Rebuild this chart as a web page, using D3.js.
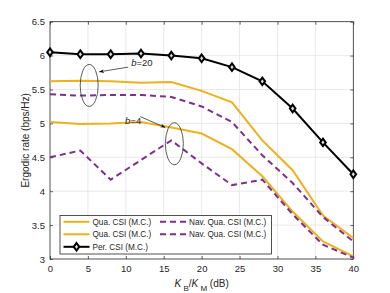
<!DOCTYPE html>
<html>
<head>
<meta charset="UTF-8">
<script src="https://d3js.org/d3.v7.min.js"></script>
<style>
    body { margin: 0; background: #fff; }
    svg { display: block; font-family: "Liberation Sans", Arial, sans-serif; }
    .grid line { stroke: #e3e3e3; stroke-width: 0.8; }
    .tk text { fill: #262626; font-size: 9.5px; }
</style>
</head>
<body>
<svg width="390" height="293"></svg>
<script>
// K_B/K_M in dB
const kb = [0, 4, 8, 12, 16, 20, 24, 28, 32, 36, 40];
// ergodic rate (bps/Hz)
const perCSI = [6.05, 6.02, 6.02, 6.03, 6.00, 5.96, 5.83, 5.62, 5.22, 4.72, 4.25];
const quaB20 = [5.62, 5.63, 5.62, 5.60, 5.61, 5.48, 5.31, 4.75, 4.31, 3.64, 3.31];
const navB20 = [5.43, 5.41, 5.42, 5.42, 5.39, 5.25, 5.02, 4.53, 4.12, 3.62, 3.26];
const quaB4  = [5.02, 4.99, 5.00, 5.02, 4.94, 4.85, 4.62, 4.22, 3.70, 3.26, 3.04];
const navB4  = [4.50, 4.60, 4.17, 4.46, 4.75, 4.41, 4.09, 4.17, 3.66, 3.21, 3.02];

const xTicks = [0, 5, 10, 15, 20, 25, 30, 35, 40];
const yTicks = [3, 3.5, 4, 4.5, 5, 5.5, 6, 6.5];

const yellow = "#EDB120", purple = "#7E2F8E";

const svg = d3.select("svg");
const m = {left: 50, top: 21.7, right: 36.7, bottom: 34};
const W = 390 - m.left - m.right, H = 293 - m.top - m.bottom;

const x = d3.scaleLinear().domain([0, 40]).range([m.left, m.left + W]);
const y = d3.scaleLinear().domain([3, 6.5]).range([m.top + H, m.top]);

// grid
svg.append("g").attr("class", "grid").selectAll("line").data(xTicks.slice(1, -1)).enter().append("line")
    .attr("x1", d => x(d)).attr("x2", d => x(d)).attr("y1", m.top).attr("y2", m.top + H);
svg.append("g").attr("class", "grid").selectAll("line").data(yTicks.slice(1, -1)).enter().append("line")
    .attr("y1", d => y(d)).attr("y2", d => y(d)).attr("x1", m.left).attr("x2", m.left + W);

// axes (ticks inside, MATLAB style)
function styleAx(g) {
    g.select(".domain").remove();
    g.selectAll(".tick line").attr("stroke", "#262626").attr("stroke-width", 0.7);
}
svg.append("g").attr("class", "tk").attr("transform", `translate(0,${m.top + H})`)
    .call(d3.axisBottom(x).tickValues(xTicks).tickSize(-3).tickPadding(6)).call(styleAx);
svg.append("g").attr("class", "tk").attr("transform", `translate(0,${m.top})`)
    .call(d3.axisTop(x).tickValues(xTicks).tickSize(-3).tickFormat("")).call(styleAx);
svg.append("g").attr("class", "tk").attr("transform", `translate(${m.left},0)`)
    .call(d3.axisLeft(y).tickValues(yTicks).tickSize(-3).tickPadding(5).tickFormat(d3.format("~g"))).call(styleAx);
svg.append("g").attr("class", "tk").attr("transform", `translate(${m.left + W},0)`)
    .call(d3.axisRight(y).tickValues(yTicks).tickSize(-3).tickFormat("")).call(styleAx);

svg.append("rect").attr("x", m.left).attr("y", m.top).attr("width", W).attr("height", H)
    .attr("fill", "none").attr("stroke", "#262626").attr("stroke-width", 0.8);

// curves
const line = d3.line().x((d, i) => x(kb[i])).y(d => y(d));
const series = [
    {v: quaB20, c: yellow, dash: null},
    {v: quaB4, c: yellow, dash: null},
    {v: navB20, c: purple, dash: "6,4"},
    {v: navB4, c: purple, dash: "6,4"},
    {v: perCSI, c: "#000", dash: null}
];
series.forEach(s => {
    svg.append("path").attr("d", line(s.v)).attr("fill", "none")
        .attr("stroke", s.c).attr("stroke-width", 2).attr("stroke-dasharray", s.dash);
});

const diamond = "M0,-3.8L2.8,0L0,3.8L-2.8,0Z";
svg.append("g").selectAll("path").data(perCSI).enter().append("path")
    .attr("d", diamond).attr("transform", (d, i) => `translate(${x(kb[i])},${y(d)})`)
    .attr("fill", "#ddd").attr("stroke", "#000").attr("stroke-width", 2);

// annotations
svg.append("defs").append("marker").attr("id", "ah").attr("viewBox", "0 0 10 10")
    .attr("refX", 10).attr("refY", 5).attr("markerWidth", 6).attr("markerHeight", 6)
    .attr("orient", "auto").append("path").attr("d", "M0,1L10,5L0,9L3,5Z").attr("fill", "#000");

function note(cx, cy, label, tx, ty, ax0, ay0, ax1, ay1) {
    svg.append("ellipse").attr("cx", x(cx)).attr("cy", y(cy)).attr("rx", 9).attr("ry", 21)
        .attr("fill", "none").attr("stroke", "#333").attr("stroke-width", 0.8);
    const t = svg.append("text").attr("x", x(tx)).attr("y", y(ty)).attr("font-size", 9.5).attr("fill", "#262626");
    t.append("tspan").attr("font-style", "italic").text("b");
    t.append("tspan").text("=" + label);
    svg.append("line").attr("x1", x(ax0)).attr("y1", y(ay0)).attr("x2", x(ax1)).attr("y2", y(ay1))
        .attr("stroke", "#333").attr("stroke-width", 0.8).attr("marker-end", "url(#ah)");
}
note(5.17, 5.56, "20", 10.7, 5.85, 10.3, 5.83, 6.48, 5.76);
note(16.4, 4.7, "4", 9.9, 4.99, 11.9, 5.1, 15.2, 4.94);

// legend
const lg = svg.append("g");
lg.append("rect").attr("x", 60).attr("y", 215.5).attr("width", 211.5).attr("height", 38.5)
    .attr("fill", "#fff").attr("stroke", "#262626").attr("stroke-width", 0.8);
const items = [
    {t: "Qua. CSI (M.C.)", c: yellow, dash: null, col: 0, row: 0},
    {t: "Qua. CSI (M.C.)", c: yellow, dash: null, col: 0, row: 1},
    {t: "Per. CSI (M.C.)", c: "#000", dash: null, col: 0, row: 2, mk: true},
    {t: "Nav. Qua. CSI (M.C.)", c: purple, dash: "6,4", col: 1, row: 0},
    {t: "Nav. Qua. CSI (M.C.)", c: purple, dash: "6,4", col: 1, row: 1}
];
items.forEach(d => {
    const x0 = d.col ? 160 : 63.5, yy = 221.8 + d.row * 12.5;
    lg.append("line").attr("x1", x0).attr("x2", x0 + 26).attr("y1", yy).attr("y2", yy)
        .attr("stroke", d.c).attr("stroke-width", 2).attr("stroke-dasharray", d.dash);
    if (d.mk) lg.append("path").attr("d", diamond).attr("transform", `translate(${x0 + 13},${yy})`)
        .attr("fill", "#ddd").attr("stroke", "#000").attr("stroke-width", 2);
    lg.append("text").attr("x", x0 + 29).attr("y", yy + 2.9).attr("font-size", 8.2).attr("fill", "#262626").text(d.t);
});

// axis labels
svg.append("text").attr("transform", `translate(29,${m.top + H / 2}) rotate(-90)`)
    .attr("text-anchor", "middle").attr("font-size", 10).attr("fill", "#262626").text("Ergodic rate (bps/Hz)");
const xl = svg.append("text").attr("x", m.left + W / 2).attr("y", 287).attr("text-anchor", "middle")
    .attr("font-size", 10).attr("fill", "#262626");
xl.append("tspan").attr("font-style", "italic").text("K");
xl.append("tspan").attr("dy", 3.5).attr("font-size", 8).text(" B");
xl.append("tspan").attr("dy", -3.5).text("/");
xl.append("tspan").attr("font-style", "italic").text("K");
xl.append("tspan").attr("dy", 3.5).attr("font-size", 8).text(" M");
xl.append("tspan").attr("dy", -3.5).text(" (dB)");
</script>
</body>
</html>
